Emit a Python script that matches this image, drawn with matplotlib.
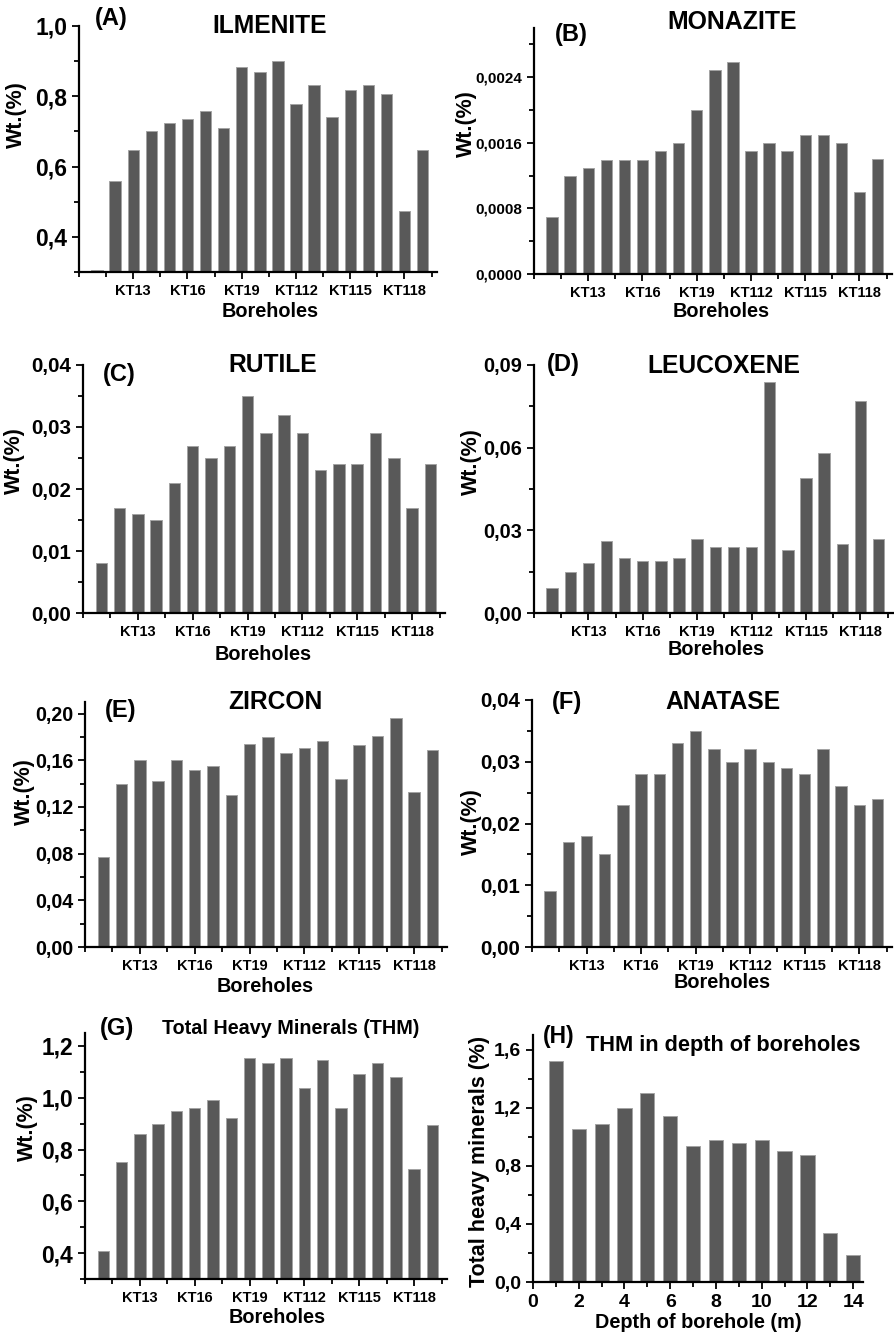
import numpy as np
import matplotlib
matplotlib.use('Agg')
import matplotlib.pyplot as plt
from matplotlib.ticker import MultipleLocator, FixedLocator, FuncFormatter

plt.rcParams['font.family'] = ['Liberation Sans', 'DejaVu Sans']
plt.rcParams['font.weight'] = 'bold'
plt.rcParams['axes.labelweight'] = 'bold'

W, H = 895, 1337

# furos (19 amostras), rotulos a cada 3
furos = np.arange(1, 20)
tick_pos = [3, 6, 9, 12, 15, 18]
tick_labels = ['KT13', 'KT16', 'KT19', 'KT112', 'KT115', 'KT118']

ilmenite = [0.305, 0.559, 0.648, 0.700, 0.724, 0.736, 0.759, 0.711, 0.883, 0.869,
            0.900, 0.779, 0.832, 0.740, 0.819, 0.832, 0.807, 0.473, 0.648]
monazite = [0.0007, 0.0012, 0.00129, 0.00139, 0.00139, 0.00139, 0.0015, 0.0016, 0.0020, 0.00249,
            0.00259, 0.0015, 0.0016, 0.0015, 0.0017, 0.0017, 0.0016, 0.0010, 0.0014]
rutile = [0.008, 0.017, 0.016, 0.015, 0.021, 0.027, 0.025, 0.027, 0.035, 0.029,
          0.032, 0.029, 0.023, 0.024, 0.024, 0.029, 0.025, 0.017, 0.024]
leucoxene = [0.009, 0.015, 0.018, 0.026, 0.020, 0.019, 0.019, 0.020, 0.027, 0.024,
             0.024, 0.024, 0.084, 0.023, 0.049, 0.058, 0.025, 0.077, 0.027]
zircon = [0.077, 0.140, 0.160, 0.142, 0.160, 0.152, 0.155, 0.130, 0.174, 0.180,
          0.166, 0.171, 0.177, 0.144, 0.173, 0.181, 0.196, 0.133, 0.169]
anatase = [0.009, 0.017, 0.018, 0.015, 0.023, 0.028, 0.028, 0.033, 0.035, 0.032,
           0.030, 0.032, 0.030, 0.029, 0.028, 0.032, 0.026, 0.023, 0.024]
thm = [0.41, 0.75, 0.86, 0.90, 0.95, 0.96, 0.99, 0.92, 1.155, 1.136,
       1.152, 1.036, 1.146, 0.96, 1.093, 1.133, 1.079, 0.725, 0.895]

# THM por profundidade
profundidade = np.arange(1, 15)
thm_profundidade = [1.52, 1.05, 1.09, 1.20, 1.30, 1.14, 0.933, 0.979, 0.96, 0.974,
                    0.90, 0.875, 0.337, 0.189]

COR = '#595959'
BORDA = '#a3a3a3'

fig = plt.figure(figsize=(W / 100, H / 100), dpi=100)


def fx(x):
    return x / W


def fy(y):
    return 1 - y / H


def novoEixo(left, top, right, bottom):
    ax = fig.add_axes([fx(left), fy(bottom), (right - left) / W, (bottom - top) / H])
    ax.spines['top'].set_visible(False)
    ax.spines['right'].set_visible(False)
    ax.spines['left'].set_linewidth(1.6)
    ax.spines['bottom'].set_linewidth(1.6)
    ax.tick_params(which='both', direction='out', width=1.3)
    ax.tick_params(which='major', length=5)
    ax.tick_params(which='minor', length=3.5)
    return ax


def virgula(casas):
    return FuncFormatter(lambda v, p: ('%.*f' % (casas, v)).replace('.', ','))


def painel(box, valores, ylim, passo, casas, fsy, letra, pos_letra, titulo, pos_titulo,
           fs_titulo, pos_ylabel, pos_xlabel):
    ax = novoEixo(*box)
    ax.bar(furos, valores, width=0.63, color=COR, edgecolor=BORDA, linewidth=0.7)
    ax.set_xlim(0, 19.8)
    ax.set_ylim(*ylim)
    ax.xaxis.set_major_locator(FixedLocator(tick_pos))
    ax.xaxis.set_minor_locator(FixedLocator([0, 1.5, 4.5, 7.5, 10.5, 13.5, 16.5, 19.5]))
    ax.set_xticklabels(tick_labels, fontsize=10.5, fontweight='bold')
    ax.yaxis.set_major_locator(MultipleLocator(passo))
    ax.yaxis.set_minor_locator(MultipleLocator(passo / 2))
    ax.yaxis.set_major_formatter(virgula(casas))
    ax.tick_params(axis='y', labelsize=fsy)
    ax.set_ylabel('Wt.(%)', fontsize=15.5, fontweight='bold')
    ax.yaxis.set_label_coords(fx(pos_ylabel[0]), fy(pos_ylabel[1]), transform=fig.transFigure)
    ax.set_xlabel('Boreholes', fontsize=14.3, fontweight='bold')
    ax.xaxis.set_label_coords(fx(pos_xlabel[0]), fy(pos_xlabel[1]), transform=fig.transFigure)
    fig.text(fx(pos_letra[0]), fy(pos_letra[1]), letra, fontsize=17, fontweight='bold',
             ha='center', va='center')
    fig.text(fx(pos_titulo[0]), fy(pos_titulo[1]), titulo, fontsize=fs_titulo, fontweight='bold',
             ha='center', va='center')
    return ax


# (A) ilmenita
painel((79, 26, 437, 272), ilmenite, (0.3, 1.0), 0.2, 1, 16.5,
       '(A)', (111, 19), 'ILMENITE', (270, 26), 17.7, (27, 115), (270, 302))
# (B) monazita
painel((534, 28, 892, 274), monazite, (0, 0.003), 0.0008, 4, 11,
       '(B)', (571, 34), 'MONAZITE', (732, 22), 17.9, (477, 124), (721, 302))
# (C) rutilo
painel((83, 365, 445, 613), rutile, (0, 0.04), 0.01, 2, 14.8,
       '(C)', (119, 375), 'RUTILE', (273, 365), 17.7, (25, 461), (263, 645))
# (D) leucoxenio
painel((534, 365, 893, 613), leucoxene, (0, 0.09), 0.03, 2, 14.3,
       '(D)', (563, 365), 'LEUCOXENE', (724, 366), 17.7, (482, 462), (716, 640))
# (E) zircao
painel((85, 702, 447, 947), zircon, (0, 0.21), 0.04, 2, 14.2,
       '(E)', (121, 710), 'ZIRCON', (275, 702), 17.7, (35, 792), (265, 977))
# (F) anatasio
painel((532, 700, 892, 947), anatase, (0, 0.04), 0.01, 2, 14.8,
       '(F)', (567, 703), 'ANATASE', (723, 702), 17.7, (482, 822), (722, 973))
# (G) total de minerais pesados
painel((85, 1033, 447, 1279), thm, (0.3, 1.25), 0.2, 1, 16.4,
       '(G)', (117, 1028), 'Total Heavy Minerals (THM)', (291, 1028), 14.2, (38, 1128), (277, 1308))

# (H) THM em profundidade
ax = novoEixo(533, 1035, 863, 1282)
ax.bar(profundidade, thm_profundidade, width=0.62, color=COR, edgecolor=BORDA, linewidth=0.7)
ax.set_xlim(0, 14.43)
ax.set_ylim(0, 1.7)
ax.xaxis.set_major_locator(MultipleLocator(2))
ax.xaxis.set_minor_locator(MultipleLocator(1))
ax.yaxis.set_major_locator(MultipleLocator(0.4))
ax.yaxis.set_minor_locator(MultipleLocator(0.2))
ax.yaxis.set_major_formatter(virgula(1))
ax.tick_params(axis='both', labelsize=14)
ax.set_ylabel('Total heavy minerals (%)', fontsize=15.5, fontweight='bold')
ax.yaxis.set_label_coords(fx(490), fy(1161), transform=fig.transFigure)
ax.set_xlabel('Depth of borehole (m)', fontsize=14.3, fontweight='bold')
ax.xaxis.set_label_coords(fx(698), fy(1313), transform=fig.transFigure)
fig.text(fx(559), fy(1037), '(H)', fontsize=16.4, fontweight='bold', ha='center', va='center')
fig.text(fx(723), fy(1046), 'THM in depth of boreholes', fontsize=15.7, fontweight='bold',
         ha='center', va='center')

fig.savefig('out.png', dpi=100)
